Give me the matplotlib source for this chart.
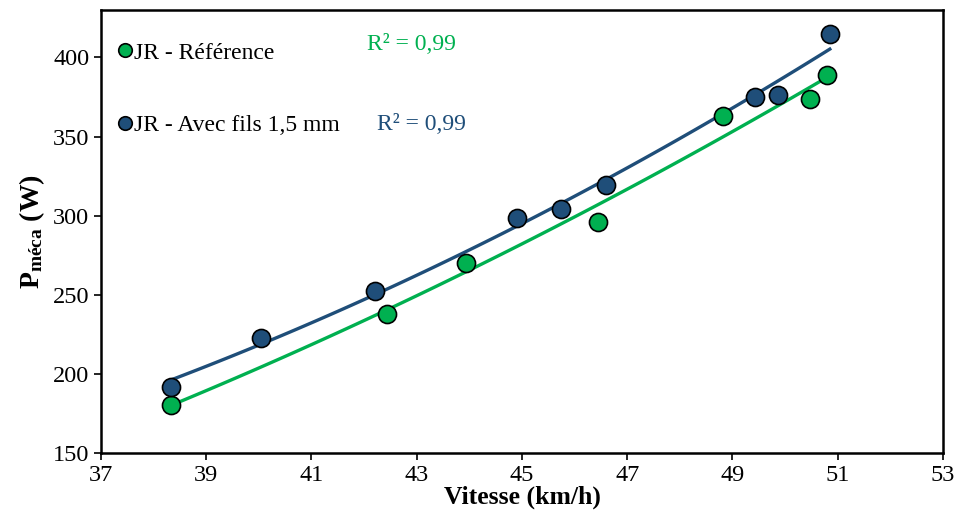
import numpy as np
import matplotlib
matplotlib.use("Agg")
import matplotlib.pyplot as plt

plt.rcParams['font.family'] = ['Liberation Serif', 'DejaVu Serif']
plt.rcParams['mathtext.fontset'] = 'custom'
plt.rcParams['mathtext.rm'] = 'Liberation Serif'
plt.rcParams['mathtext.bf'] = 'Liberation Serif:bold'

# JR - Référence
vit_ref = [38.33, 42.43, 43.93, 46.45, 48.82, 50.47, 50.79]
p_ref = [180.4, 238.0, 270.3, 296.2, 362.7, 374.0, 388.6]

# JR - Avec fils 1,5 mm
vit_fils = [38.33, 40.04, 42.20, 44.91, 45.74, 46.60, 49.42, 49.86, 50.85]
p_fils = [191.8, 222.8, 252.5, 298.7, 304.4, 319.6, 375.3, 376.0, 414.6]

green = '#00B050'
blue = '#1F4E79'

fig = plt.figure(figsize=(9.58, 5.15), dpi=100)
ax = fig.add_axes([0.1054, 0.1204, 0.8789, 0.8602])

# polynomial trendlines (order 2)
for x, y, c in [(vit_ref, p_ref, green), (vit_fils, p_fils, blue)]:
    coef = np.polyfit(x, y, 2)
    xx = np.linspace(min(x), max(x), 100)
    ax.plot(xx, np.polyval(coef, xx), color=c, lw=2.4, zorder=2)

ax.plot(vit_ref, p_ref, 'o', color=green, mec='black', mew=1.2, ms=13,
        label='JR - Référence', zorder=3)
ax.plot(vit_fils, p_fils, 'o', color=blue, mec='black', mew=1.2, ms=13,
        label='JR - Avec fils 1,5 mm', zorder=3)

ax.set_xlim(37, 53)
ax.set_ylim(150, 430)
ax.set_xticks(np.arange(37, 54, 2))
ax.set_yticks(np.arange(150, 401, 50))
ax.tick_params(labelsize=17.5, length=5, width=1.2, direction='out')
for s in ax.spines.values():
    s.set_linewidth(1.8)

ax.set_xlabel('Vitesse (km/h)', fontsize=18.5, fontweight='bold', labelpad=0)
ax.set_ylabel(r'$\mathbf{P_{méca}}$' + ' (W)', fontsize=20, fontweight='bold', labelpad=4)

leg = ax.legend(loc='upper left', bbox_to_anchor=(0.0, 0.965), frameon=False,
                fontsize=17, markerscale=0.75, handlelength=0.6, handletextpad=0.1,
                labelspacing=2.15, borderaxespad=0.3)

fig.text(367 / 958, 1 - 45 / 515, 'R² = 0,99', color=green, fontsize=17, va='center')
fig.text(377 / 958, 1 - 125 / 515, 'R² = 0,99', color=blue, fontsize=17, va='center')

fig.savefig('out.png', dpi=100)
